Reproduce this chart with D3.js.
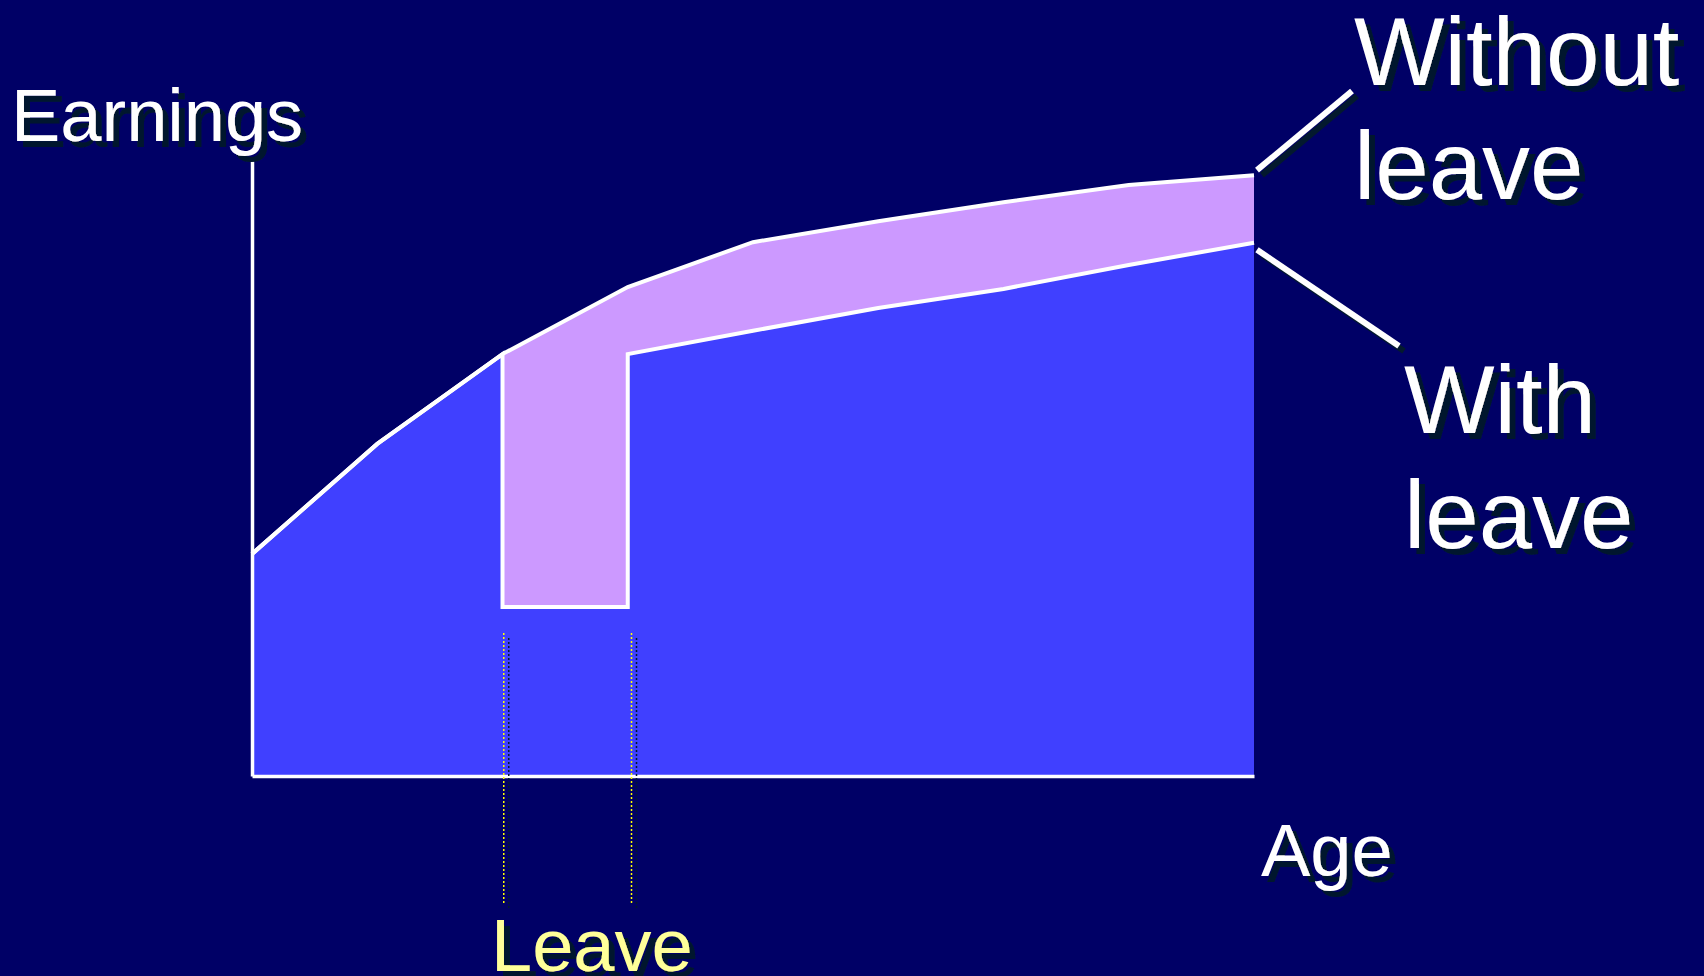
<!DOCTYPE html>
<html>
<head>
<meta charset="utf-8">
<script src="https://cdn.jsdelivr.net/npm/d3@7"></script>
<style>
  html, body { margin: 0; padding: 0; background: #000066; }
  svg { display: block; }
  text { font-family: "Liberation Sans", Arial, sans-serif; }
</style>
</head>
<body>
<script>
// Earnings over the working life, with and without a career break
const ages = [20, 25, 30, 35, 40, 45, 50, 55, 60];
const earningsWithoutLeave = [36.1, 54.0, 68.6, 79.5, 86.8, 90.2, 93.3, 96.1, 97.7];
const leaveStart = 30;
const leaveEnd = 35;
const earningsDuringLeave = 27.5;
const agesAfterLeave = [35, 40, 45, 50, 55, 60];
const earningsAfterLeave = [68.6, 72.4, 76.1, 79.2, 83.1, 86.7];
const leaveMarkers = [30.05, 35.15];

const W = 1704, H = 976;
const svg = d3.select("body").append("svg").attr("width", W).attr("height", H);
svg.append("rect").attr("width", W).attr("height", H).attr("fill", "#000066");

// Drop shadow used by labels, leader lines and leave markers
const shadow = "#03192e";
const defs = svg.append("defs");
const f = defs.append("filter").attr("id", "shadow")
  .attr("x", "-10%").attr("y", "-10%").attr("width", "130%").attr("height", "130%");
f.append("feFlood").attr("flood-color", shadow).attr("result", "c");
f.append("feComposite").attr("in", "c").attr("in2", "SourceAlpha").attr("operator", "in").attr("result", "s");
f.append("feOffset").attr("in", "s").attr("dx", 6).attr("dy", 6).attr("result", "o");
const m = f.append("feMerge");
m.append("feMergeNode").attr("in", "o");
m.append("feMergeNode").attr("in", "SourceGraphic");

const x = d3.scaleLinear().domain([20, 60]).range([252, 1254]);
const y = d3.scaleLinear().domain([0, 100]).range([776, 161]);

// Path without leave
const without = ages.map((a, i) => ({ age: a, v: earningsWithoutLeave[i] }));
// Path with leave: same as without until leave, drop, flat, back up, lower track
const withLeave = without.filter(d => d.age <= leaveStart)
  .concat([{ age: leaveStart, v: earningsDuringLeave }, { age: leaveEnd, v: earningsDuringLeave }])
  .concat(agesAfterLeave.map((a, i) => ({ age: a, v: earningsAfterLeave[i] })));

const line = d3.line().x(d => x(d.age)).y(d => y(d.v));
const area = d3.area().x(d => x(d.age)).y0(y(0)).y1(d => y(d.v));

// Earnings lost: between the two paths from the start of leave onwards
const lostTop = without.filter(d => d.age >= leaveStart);
const lostBottom = withLeave.slice(withLeave.findIndex(d => d.age === leaveStart) + 1).reverse();
svg.append("path")
  .attr("d", line(lostTop.concat(lostBottom)) + "Z")
  .attr("fill", "#cc99ff");

svg.append("path")
  .attr("d", area(withLeave))
  .attr("fill", "#4040ff");

svg.append("path").attr("d", line(without))
  .attr("fill", "none").attr("stroke", "#ffffff").attr("stroke-width", 4).attr("stroke-linejoin", "miter");
svg.append("path").attr("d", line(withLeave))
  .attr("fill", "none").attr("stroke", "#ffffff").attr("stroke-width", 4).attr("stroke-linejoin", "miter");

// Axes as plain lines
const xAxis = d3.axisBottom(x).tickValues([]).tickSizeOuter(0);
const yAxis = d3.axisLeft(y).tickValues([]).tickSizeOuter(0);
const gx = svg.append("g").attr("transform", `translate(0,${y(0)})`).call(xAxis);
const gy = svg.append("g").attr("transform", `translate(${x(20)},0)`).call(yAxis);
[gx, gy].forEach(g => g.select(".domain").attr("stroke", "#ffffff").attr("stroke-width", 3.5));

// Dotted markers for the leave period
leaveMarkers.forEach(a => {
  svg.append("line").attr("x1", x(a) + 5).attr("x2", x(a) + 5).attr("y1", 638).attr("y2", 910)
    .attr("stroke", shadow).attr("stroke-width", 1.5).attr("stroke-dasharray", "2,2");
  svg.append("line").attr("x1", x(a)).attr("x2", x(a)).attr("y1", 633).attr("y2", 905)
    .attr("stroke", "#ffff00").attr("stroke-width", 1.5).attr("stroke-dasharray", "2,2");
});

// Leader lines to the path labels
function leader(x1, y1, x2, y2) {
  svg.append("line").attr("x1", x1 + 5).attr("y1", y1 + 5).attr("x2", x2 + 5).attr("y2", y2 + 5)
    .attr("stroke", shadow).attr("stroke-width", 6);
  svg.append("line").attr("x1", x1).attr("y1", y1).attr("x2", x2).attr("y2", y2)
    .attr("stroke", "#ffffff").attr("stroke-width", 6);
}
leader(x(60) + 3, y(earningsWithoutLeave[8]) - 5, 1352, 91);
leader(x(60) + 3, y(earningsAfterLeave[5]) + 7, 1399, 346);

// Labels with drop shadow
function label(lines, tx, ty, size, color, lh) {
  const t = svg.append("text").attr("x", tx).attr("y", ty).attr("font-size", size)
    .attr("fill", color).attr("filter", "url(#shadow)");
  lines.forEach((s, i) => t.append("tspan").attr("x", tx).attr("y", ty + i * lh).text(s));
}
label(["Earnings"], 11, 141, 74, "#ffffff", 0);
label(["Age"], 1261, 876, 74, "#ffffff", 0);
label(["Leave"], 491, 971, 74, "#ffff99", 0);
label(["Without", "leave"], 1354, 85, 96, "#ffffff", 114);
label(["With", "leave"], 1404, 433, 96, "#ffffff", 115);
</script>
</body>
</html>
